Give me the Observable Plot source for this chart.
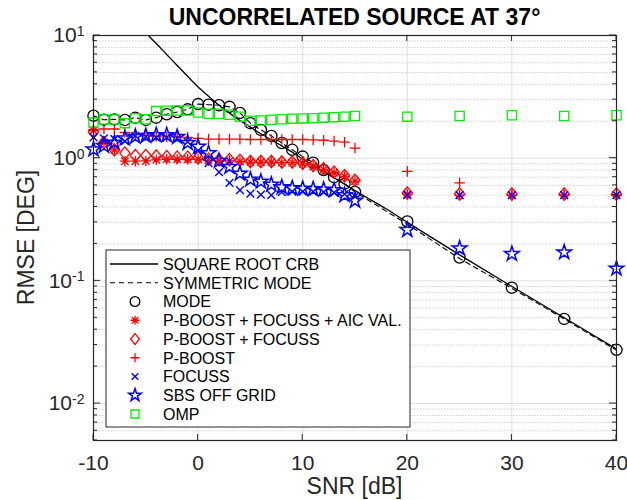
<!DOCTYPE html>
<html><head><meta charset="utf-8">
<script src="https://cdn.jsdelivr.net/npm/d3@7"></script>
<script src="https://cdn.jsdelivr.net/npm/@observablehq/plot@0.6"></script>
<style>
body{margin:0;background:#fff;}
#chart{width:627px;height:500px;overflow:hidden;position:relative}
#chart svg{font-family:"Liberation Sans", Arial, Helvetica, sans-serif;}
</style></head><body><div id="chart"></div>
<script>
// ---------- data ----------
const titleText = "UNCORRELATED SOURCE AT 37°";
const xLabel = "SNR [dB]";
const yLabel = "RMSE [DEG]";
const xTicks = [-10, 0, 10, 20, 30, 40];
const yTicks = [0.01, 0.1, 1, 10];

const snr = [-10,-9,-8,-7,-6,-5,-4,-3,-2,-1,0,1,2,3,4,5,6,7,8,9,10,11,12,13,14,15,20,25,30,35,40];

const crbSnr  = [-6,-5,-4,-3,-2,-1,0,1,2,3,4,5,6,7,8,9,10,11,12,13,14,15,16,18,20,25,30,35,40];
const crbRmse = [13.0,10.5,8.6,7.0,5.7,4.65,3.8,3.2,2.7,2.33,2.03,1.79,1.58,1.41,1.26,1.12,0.98,0.875,0.78,0.69,0.615,0.545,0.485,0.385,0.3,0.163,0.09,0.05,0.0278];

const symMode = [2.22,2.06,2.07,2.05,2.14,2.05,2.14,2.28,2.38,2.5,2.76,2.73,2.7,2.62,2.34,1.93,1.7,1.52,1.33,1.17,1.03,0.92,0.8,0.7,0.62,0.53,0.29,0.152,0.087,0.049,0.0272];
const mode    = [2.22,2.06,2.07,2.05,2.14,2.05,2.14,2.28,2.38,2.5,2.76,2.73,2.7,2.62,2.34,1.93,1.7,1.52,1.33,1.17,1.03,0.92,0.8,0.7,0.62,0.53,0.305,0.155,0.088,0.049,0.0274];
const pbFocussAic = [1.68,1.34,1.17,0.945,0.945,0.95,0.97,0.98,0.98,0.98,0.98,0.96,0.95,0.95,0.94,0.93,0.93,0.93,0.92,0.92,0.9,0.86,0.81,0.76,0.71,0.65,0.51,0.5,0.5,0.5,0.5];
const pbFocuss = [1.63,1.34,1.17,1.1,1.05,1.05,1.04,1.03,1.02,1.02,1.01,0.98,0.97,0.97,0.96,0.94,0.94,0.94,0.93,0.93,0.91,0.87,0.82,0.77,0.72,0.66,0.52,0.51,0.51,0.51,0.51];
const pBoost = [1.71,1.73,1.73,1.62,1.56,1.53,1.5,1.49,1.5,1.48,1.45,1.43,1.43,1.43,1.43,1.42,1.42,1.42,1.42,1.42,1.42,1.41,1.4,1.38,1.35,1.21,0.78,0.63,0.5,0.5,0.5];
const focuss = [1.48,1.45,1.43,1.38,1.52,1.5,1.48,1.48,1.46,1.36,1.15,0.91,0.77,0.63,0.55,0.515,0.505,0.5,0.53,0.535,0.535,0.535,0.53,0.525,0.51,0.49,0.5,0.5,0.5,0.5,0.5];
const sbsOffGrid = [1.18,1.26,1.34,1.45,1.5,1.52,1.54,1.54,1.49,1.33,1.24,1.1,0.95,0.85,0.75,0.67,0.645,0.61,0.58,0.57,0.565,0.56,0.555,0.55,0.5,0.45,0.26,0.184,0.166,0.171,0.126];
const omp = [1.95,2.07,2.07,1.93,2.12,2.08,2.42,2.44,2.45,2.45,2.36,2.3,2.3,2.26,2.18,2.02,2.03,2.06,2.08,2.1,2.11,2.12,2.14,2.16,2.18,2.21,2.18,2.21,2.24,2.21,2.24];

const legendNames = ["SQUARE ROOT CRB","SYMMETRIC MODE","MODE","P-BOOST + FOCUSS + AIC VAL.","P-BOOST + FOCUSS","P-BOOST","FOCUSS","SBS OFF GRID","OMP"];

// ---------- symbols ----------
const diamondSym = {draw(ctx, size){const r=Math.sqrt(size/Math.PI);const h=r*1.15,w=r*0.95;ctx.moveTo(0,-h);ctx.lineTo(w,0);ctx.lineTo(0,h);ctx.lineTo(-w,0);ctx.closePath();}};
const asteriskSym = {draw(ctx, size){const r=Math.sqrt(size/Math.PI);const d=r*0.72;ctx.moveTo(-r,0);ctx.lineTo(r,0);ctx.moveTo(0,-r);ctx.lineTo(0,r);ctx.moveTo(-d,-d);ctx.lineTo(d,d);ctx.moveTo(-d,d);ctx.lineTo(d,-d);}};

const rows = (ys) => snr.map((s,i)=>({snr:s, v:ys[i]}));
const crbRows = crbSnr.map((s,i)=>({snr:s, v:crbRmse[i]}));

const RED="#ff0000", BLUE="#0000ff", GREEN="#00ee00", INK="#262626";

const series = [
  {name:legendNames[2], data:rows(mode), symbol:"circle", r:5.6, stroke:"#000", sw:1.3},
  {name:legendNames[3], data:rows(pbFocussAic), symbol:asteriskSym, r:5.2, stroke:RED, sw:1.3},
  {name:legendNames[4], data:rows(pbFocuss), symbol:diamondSym, r:5.4, stroke:RED, sw:1.3},
  {name:legendNames[5], data:rows(pBoost), symbol:"plus", r:3.5, stroke:RED, sw:1.3},
  {name:legendNames[6], data:rows(focuss), symbol:"times", r:3.6, stroke:BLUE, sw:1.4},
  {name:legendNames[7], data:rows(sbsOffGrid), symbol:"star", r:4.6, stroke:BLUE, sw:1.5},
  {name:legendNames[8], data:rows(omp), symbol:"square", r:5.2, stroke:GREEN, sw:1.3}
];

// minor / major grid values
const minorY = [];
for (const dec of [0.001,0.01,0.1,1]) for (let k=2;k<=9;k++){const v=+(k*dec).toPrecision(3); if(v>=0.005 && v<10) minorY.push(v);}

const W=627,H=500, mL=93, mR=11, mT=35, mB=60;

const plot = Plot.plot({
  width: W, height: H,
  marginLeft: mL, marginRight: mR, marginTop: mT, marginBottom: mB,
  style: {fontFamily: '"Liberation Sans", Arial, sans-serif', background: "#fff", color: INK},
  x: {domain: [-10, 40]},
  y: {type: "log", domain: [0.005, 10]},
  marks: [
    Plot.ruleY(minorY, {stroke: "#d0d0d0", strokeWidth: 1, strokeDasharray: "1.5,1.5"}),
    Plot.ruleY(yTicks, {stroke: "#dedede", strokeWidth: 1}),
    Plot.ruleX(xTicks.slice(1,-1), {stroke: "#dedede", strokeWidth: 1}),
    Plot.line(crbRows, {x:"snr", y:"v", stroke:"#000", strokeWidth:1.3, clip:true, curve:"monotone-x"}),
    Plot.line(rows(symMode), {x:"snr", y:"v", stroke:"#000", strokeWidth:1.1, strokeDasharray:"5,4", clip:true}),
    ...series.map(s => Plot.dot(s.data, {x:"snr", y:"v", symbol:s.symbol, r:s.r, stroke:s.stroke, fill:"none", strokeWidth:s.sw})),
    Plot.axisX({ticks: xTicks, tickSize: 0, tickPadding: 15, fontSize: 21, label: null, tickFormat: d => String(d)}),
    Plot.axisY({ticks: yTicks, tickSize: 0, tickPadding: 9, fontSize: 21, label: null, tickFormat: d => String(Math.round(Math.log10(d)))}),
    Plot.frame({stroke: INK, strokeWidth: 1.2})
  ]
});
document.getElementById("chart").appendChild(plot);

// ---------- post-processing: superscripts, ticks, labels, legend ----------
const svg = d3.select(plot);
const sx = plot.scale("x"), sy = plot.scale("y");
const x0 = mL, x1 = W - mR, y0 = mT, y1 = H - mB;

svg.selectAll('g[aria-label="y-axis tick label"] text').each(function(){
  const e = this.textContent;
  const t = d3.select(this);
  t.text(null);
  t.append("tspan").text("10");
  t.append("tspan").attr("dy","-0.45em").attr("font-size","14px").text(e);
});

// inward ticks on all four sides
const tg = svg.append("g").attr("stroke", INK).attr("stroke-width", 1);
for (const v of xTicks) {
  const px = sx.apply(v);
  tg.append("line").attr("x1",px).attr("x2",px).attr("y1",y1).attr("y2",y1-6);
  tg.append("line").attr("x1",px).attr("x2",px).attr("y1",y0).attr("y2",y0+6);
}
for (const v of yTicks) {
  const py = sy.apply(v);
  tg.append("line").attr("x1",x0).attr("x2",x0+7).attr("y1",py).attr("y2",py);
  tg.append("line").attr("x1",x1).attr("x2",x1-7).attr("y1",py).attr("y2",py);
}
for (const v of minorY) {
  const py = sy.apply(v);
  tg.append("line").attr("x1",x0).attr("x2",x0+4).attr("y1",py).attr("y2",py);
  tg.append("line").attr("x1",x1).attr("x2",x1-4).attr("y1",py).attr("y2",py);
}

// title & axis labels
svg.append("text").attr("x",(x0+x1)/2).attr("y",y0-10).attr("text-anchor","middle")
  .attr("font-size","23px").attr("font-weight","bold").attr("fill","#000").text(titleText);
svg.append("text").attr("x",(x0+x1)/2).attr("y",H-6).attr("text-anchor","middle")
  .attr("font-size","23px").attr("fill",INK).text(xLabel);
svg.append("text").attr("transform",`translate(34,${(y0+y1)/2}) rotate(-90)`).attr("text-anchor","middle")
  .attr("font-size","23px").attr("fill",INK).text(yLabel);

// legend
const lgL = x0 + 13, lgB = y1 - 13, lgW = 304, rowH = 18.75, lgH = 177;
const lg = svg.append("g").attr("text-anchor","start");
lg.append("rect").attr("x",lgL).attr("y",lgB-lgH).attr("width",lgW).attr("height",lgH)
  .attr("fill","#fff").attr("stroke",INK).attr("stroke-width",1);
const rowY = i => lgB - lgH + 14 + i*rowH;
const sampleX0 = lgL + 4, sampleX1 = lgL + 52, markX = lgL + 29, textX = lgL + 57;
lg.append("line").attr("x1",sampleX0).attr("x2",sampleX1).attr("y1",rowY(0)).attr("y2",rowY(0)).attr("stroke","#000").attr("stroke-width",1.3);
lg.append("line").attr("x1",sampleX0).attr("x2",sampleX1).attr("y1",rowY(1)).attr("y2",rowY(1)).attr("stroke","#000").attr("stroke-width",1.1).attr("stroke-dasharray","5,4");
const symMap = {circle:d3.symbolCircle, plus:d3.symbolPlus, times:d3.symbolTimes, star:d3.symbolStar, square:d3.symbolSquare};
series.forEach((s,i) => {
  const type = typeof s.symbol === "string" ? symMap[s.symbol] : s.symbol;
  lg.append("path").attr("d", d3.symbol(type, Math.PI*s.r*s.r*0.75)())
    .attr("transform",`translate(${markX},${rowY(i+2)})`)
    .attr("fill","none").attr("stroke",s.stroke).attr("stroke-width",s.sw);
});
legendNames.forEach((n,i) => {
  lg.append("text").attr("x",textX).attr("y",rowY(i)).attr("dy","0.36em").attr("text-anchor","start")
    .attr("font-size","16px").attr("fill","#000").text(n);
});
</script></body></html>
